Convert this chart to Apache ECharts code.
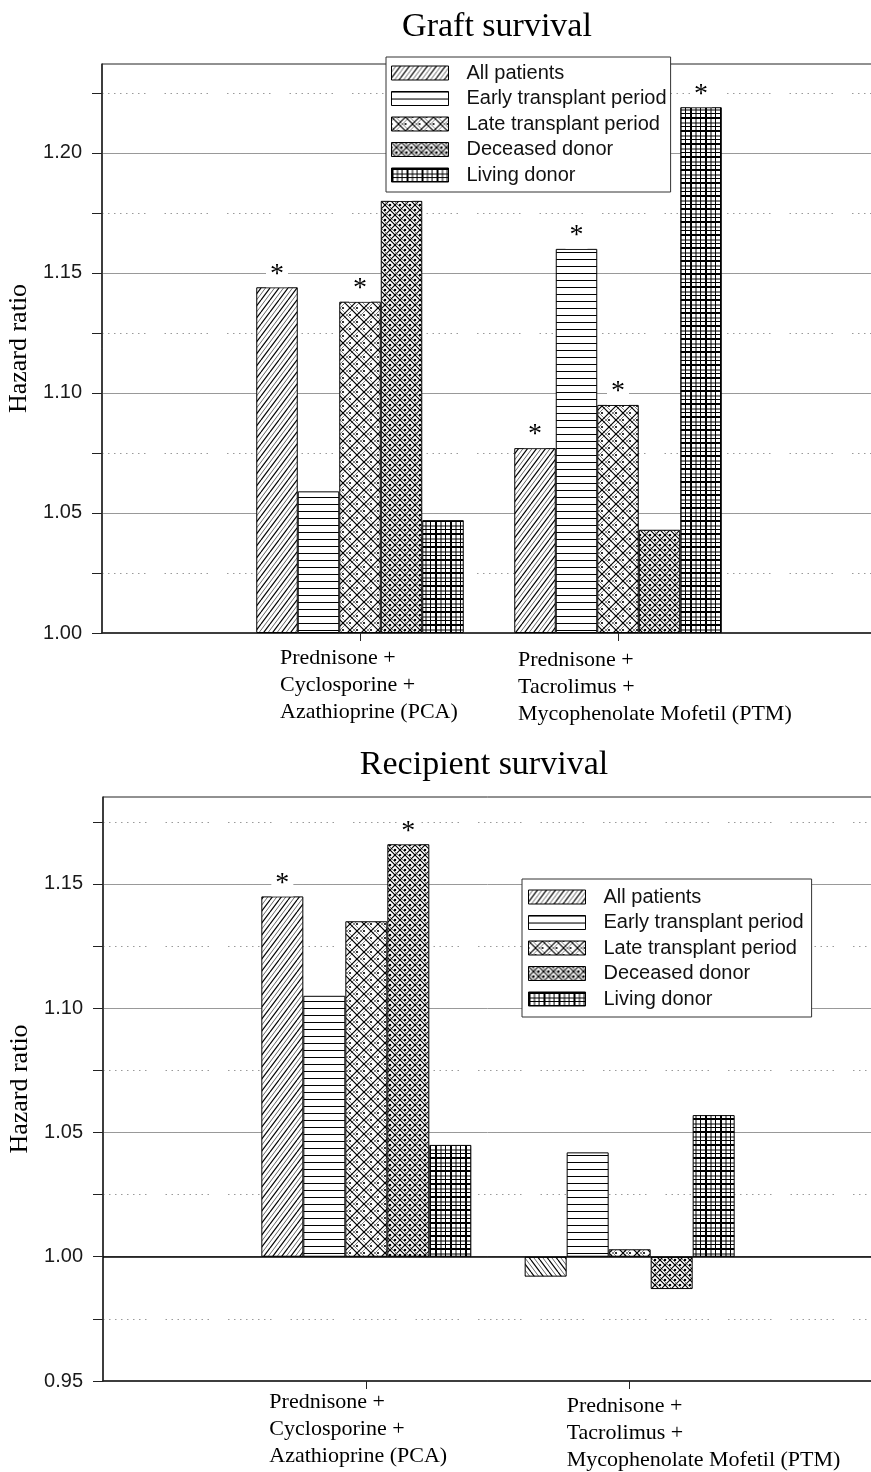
<!DOCTYPE html>
<html><head><meta charset="utf-8">
<script src="https://cdn.jsdelivr.net/npm/echarts@6/dist/echarts.min.js"></script>
<style>html,body{margin:0;padding:0;background:#fff}#c{width:871px;height:1472px}</style>
</head><body><div id="c"></div>
<script>
// ---------- data ----------
const seriesNames = ['All patients', 'Early transplant period', 'Late transplant period', 'Deceased donor', 'Living donor'];
const regimenKeys = ['PCA', 'PTM'];
const regimenLabels = ['Prednisone +\nCyclosporine +\nAzathioprine (PCA)', 'Prednisone +\nTacrolimus +\nMycophenolate Mofetil (PTM)'];
const panelTitles = ['Graft survival', 'Recipient survival'];
const yAxisName = 'Hazard ratio';
const BASE = 1.00; // hazard ratio reference line

// Graft survival hazard ratios [PCA, PTM]
const graftAll      = [1.144, 1.077];
const graftEarly    = [1.059, 1.160];
const graftLate     = [1.138, 1.095];
const graftDeceased = [1.180, 1.043];
const graftLiving   = [1.047, 1.219];
// significance markers (*)
const graftAllSig      = [true, true];
const graftEarlySig    = [false, true];
const graftLateSig     = [true, true];
const graftDeceasedSig = [true, false];
const graftLivingSig   = [false, true];
const graftTicks = [1.00, 1.05, 1.10, 1.15, 1.20];
const graftMax = 1.237;

// Recipient survival hazard ratios [PCA, PTM]
const recipAll      = [1.145, 0.992];
const recipEarly    = [1.105, 1.042];
const recipLate     = [1.135, 1.003];
const recipDeceased = [1.166, 0.987];
const recipLiving   = [1.045, 1.057];
const recipAllSig      = [true, false];
const recipEarlySig    = [false, false];
const recipLateSig     = [false, false];
const recipDeceasedSig = [true, false];
const recipLivingSig   = [false, false];
const recipTicks = [0.95, 1.00, 1.05, 1.10, 1.15];
const recipMax = 1.1847;

// ---------- patterns ----------
function pat(w, h, draw) {
  const c = document.createElement('canvas');
  c.width = w; c.height = h;
  const g = c.getContext('2d');
  g.fillStyle = '#fff'; g.fillRect(0, 0, w, h);
  draw(g, w, h);
  return { image: c, repeat: 'repeat' };
}
function line(g, x1, y1, x2, y2, col, lw) {
  g.strokeStyle = col; g.lineWidth = lw;
  g.beginPath(); g.moveTo(x1, y1); g.lineTo(x2, y2); g.stroke();
}
function dot(g, x, y, r) { g.fillStyle = '#000'; g.beginPath(); g.arc(x, y, r, 0, Math.PI * 2); g.fill(); }

const patAll = pat(9, 12, (g, w, h) => {
  for (let k = -1; k <= 1; k++) {
    line(g, k * w, h, k * w + w, 0, '#000', 1.2);
    line(g, k * w + w / 2, h, k * w + w * 1.5, 0, '#444', 0.8);
  }
});
const patAllNeg = pat(9, 12, (g, w, h) => {
  for (let k = -1; k <= 1; k++) {
    line(g, k * w, 0, k * w + w, h, '#000', 1.2);
    line(g, k * w + w / 2, 0, k * w + w * 1.5, h, '#444', 0.8);
  }
});
const patEarly = pat(4, 7, (g, w, h) => { line(g, 0, 0.5, w, 0.5, '#000', 1); });
const patLate = pat(14, 14, (g, w, h) => {
  for (let k = -1; k <= 1; k++) {
    line(g, k * w, 0, k * w + w, h, '#000', 1.2);
    line(g, k * w, h, k * w + w, 0, '#000', 1.2);
    line(g, k * w + 4, 0, k * w + 4 + w, h, '#555', 0.7);
    line(g, k * w + 4, h, k * w + 4 + w, 0, '#555', 0.7);
  }
  dot(g, 7, 0, 1.1); dot(g, 7, 14, 1.1); dot(g, 0, 7, 1.1); dot(g, 14, 7, 1.1);
});
const patDeceased = pat(10, 10, (g, w, h) => {
  for (let k = -1; k <= 1; k++) {
    line(g, k * w, 0, k * w + w, h, '#000', 1.2);
    line(g, k * w, h, k * w + w, 0, '#000', 1.2);
    line(g, k * w + 3, 0, k * w + 3 + w, h, '#444', 0.7);
  }
  dot(g, 5, 0, 1.3); dot(g, 5, 10, 1.3); dot(g, 0, 5, 1.3); dot(g, 10, 5, 1.3);
});
const patLiving = pat(15, 13, (g, w, h) => {
  line(g, 1, 0, 1, h, '#000', 2);
  line(g, 6, 0, 6, h, '#000', 1);
  line(g, 10.5, 0, 10.5, h, '#000', 1);
  line(g, 0, 1, w, 1, '#000', 2);
  line(g, 0, 6, w, 6, '#000', 1);
  line(g, 0, 9.5, w, 9.5, '#000', 1);
});
const patterns = [patAll, patEarly, patLate, patDeceased, patLiving];
const negPatterns = [patAllNeg, patEarly, patLate, patDeceased, patLiving];

// ---------- option ----------
const panels = [
  { values: [graftAll, graftEarly, graftLate, graftDeceased, graftLiving],
    sig: [graftAllSig, graftEarlySig, graftLateSig, graftDeceasedSig, graftLivingSig],
    ticks: graftTicks, max: graftMax,
    grid: { left: 102, top: 64, width: 774, height: 569 }, barWidth: 41.5,
    legend: { left: 386, top: 57, padding: [6, 4, 7, 5] },
    title: { x: 497, y: 27 },
    labelDx: [-80, -100], labelTop: [644.5, 647] },
  { values: [recipAll, recipEarly, recipLate, recipDeceased, recipLiving],
    sig: [recipAllSig, recipEarlySig, recipLateSig, recipDeceasedSig, recipLivingSig],
    ticks: recipTicks, max: recipMax,
    grid: { left: 103, top: 797, width: 790, height: 584 }, barWidth: 42,
    legend: { left: 522, top: 879, padding: [8, 8, 8, 6] },
    title: { x: 484, y: 765 },
    labelDx: [-97, -63], labelTop: [1388.5, 1392.5] }
];

const r3 = v => Math.round(v * 1000) / 1000;
const dots = [1.5, 4.5, 1.5, 4.5, 1.5, 4.5, 1.5, 4.5, 1.5, 4.5, 1.5, 4.5, 1.5, 4.5, 1.5, 19];
const axisCol = '#222';
const catData = ['L', ...regimenKeys, 'R'];

const option = {
  animation: false,
  backgroundColor: '#fff',
  grid: [], xAxis: [], yAxis: [], legend: [], series: []
};

panels.forEach((p, pi) => {
  const min = r3(p.ticks[0] - BASE);
  const max = r3(p.max - BASE);
  const step = r3(p.ticks[1] - p.ticks[0]);
  // tick marks at every labelled tick and halfway between them (inside the axis range)
  const tickVals = [];
  p.ticks.forEach(t => {
    const a = r3(t - BASE), b = r3(t - BASE + step / 2);
    if (a < max) tickVals.push(a);
    if (b < max) tickVals.push(b);
  });
  option.grid.push(Object.assign({ show: true, borderColor: axisCol, borderWidth: 1, outerBoundsMode: 'none', containLabel: false }, p.grid));
  option.xAxis.push({
    type: 'category', gridIndex: pi, data: catData, boundaryGap: false,
    axisLine: { show: true, onZero: false, lineStyle: { color: axisCol, width: 1.5 } },
    axisTick: { show: true, length: 8, interval: (i) => i === 1 || i === 2, lineStyle: { color: axisCol } },
    axisLabel: { show: false }, splitLine: { show: false }
  });
  option.yAxis.push({
    type: 'value', gridIndex: pi, position: 'left', min, max, interval: step,
    name: yAxisName, nameLocation: 'middle', nameGap: 61, nameRotate: 90,
    nameTextStyle: { fontFamily: 'Liberation Serif', fontSize: 26, color: '#000' },
    axisLine: { show: true, lineStyle: { color: axisCol, width: 1.5 } },
    axisTick: { show: false },
    axisLabel: { show: true, margin: 20, fontSize: 20, fontFamily: 'Liberation Sans', color: '#1a1a1a',
      showMaxLabel: false, formatter: v => (v + BASE).toFixed(2) },
    splitLine: { show: true, showMinLine: false, showMaxLine: false, lineStyle: { color: '#999', width: 1 } }
  });
  option.yAxis.push({
    type: 'value', gridIndex: pi, position: 'left', min, max, interval: r3(step / 2),
    axisLine: { show: false }, axisLabel: { show: false },
    axisTick: { show: true, length: 10, customValues: tickVals, lineStyle: { color: axisCol } },
    splitLine: { show: true, showMinLine: false, showMaxLine: true, lineStyle: { color: '#9a9a9a', width: 1, type: dots } }
  });
  option.legend.push(Object.assign({
    orient: 'vertical', icon: 'rect', itemWidth: 57, itemHeight: 14, itemGap: 5.5,
    borderColor: '#333', borderWidth: 1, backgroundColor: '#fff', selectedMode: false, z: 10,
    textStyle: { fontSize: 20, fontFamily: 'Liberation Sans', color: '#111', padding: [0, 0, 0, 13] },
    itemStyle: { borderColor: '#000', borderWidth: 1 },
    data: seriesNames
  }, p.legend));
  seriesNames.forEach((name, si) => {
    const vals = p.values[si];
    const data = [null];
    vals.forEach((v, i) => {
      const item = { value: r3(v - BASE), label: { show: !!p.sig[si][i] } };
      if (v < BASE) item.itemStyle = { color: negPatterns[si] };
      data.push(item);
    });
    data.push(null);
    const s = {
      type: 'bar', name, xAxisIndex: pi, yAxisIndex: pi * 2,
      barWidth: p.barWidth, barGap: '0%', data,
      itemStyle: { color: patterns[si], borderColor: '#000', borderWidth: 1 },
      label: { position: 'top', distance: 0, formatter: '*', fontFamily: 'Liberation Serif', fontSize: 28,
        lineHeight: 26, color: '#000', backgroundColor: '#fff', padding: [0, 4, 0, 4] },
      emphasis: { disabled: true }, silent: true
    };
    if (pi === 1 && si === 0) {
      s.markLine = { silent: true, symbol: 'none', label: { show: false },
        lineStyle: { color: '#000', width: 1.5, type: 'solid' }, data: [{ yAxis: 0 }] };
    }
    option.series.push(s);
  });
});

const chart = echarts.init(document.getElementById('c'), null, { renderer: 'canvas' });
chart.setOption(option);

const graphics = [];
panels.forEach((p, pi) => {
  graphics.push({ type: 'text', x: p.title.x, y: p.title.y, z: 20,
    style: { text: panelTitles[pi], fontFamily: 'Liberation Serif', fontSize: 34, fill: '#000', align: 'center', verticalAlign: 'middle' } });
  regimenKeys.forEach((k, i) => {
    const x = chart.convertToPixel({ xAxisIndex: pi }, k);
    graphics.push({ type: 'text', x: x + p.labelDx[i], y: p.labelTop[i], z: 20,
      style: { text: regimenLabels[i], fontFamily: 'Liberation Serif', fontSize: 22, lineHeight: 27,
        fill: '#000', align: 'left', verticalAlign: 'top' } });
  });
});
chart.setOption({ graphic: graphics });
</script></body></html>
